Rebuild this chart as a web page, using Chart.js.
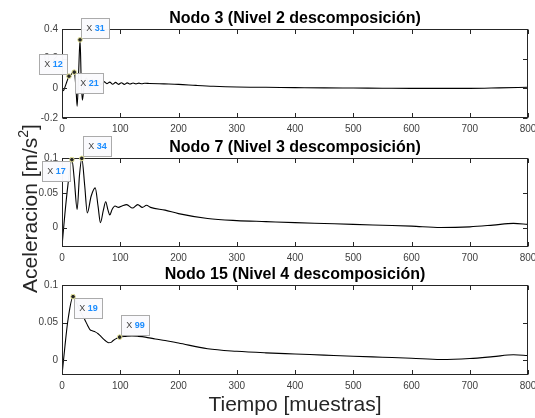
<!DOCTYPE html>
<html><head><meta charset="utf-8">
<script src="https://cdn.jsdelivr.net/npm/chart.js@4.4.0/dist/chart.umd.min.js"></script>
<style>
html,body{margin:0;padding:0;background:#fff;}
#wrap{position:relative;width:535px;height:418px;overflow:hidden;}
canvas{position:absolute;left:0;top:0;}
</style></head><body>
<div id="wrap">
<canvas id="c1" width="535" height="418"></canvas>
<canvas id="c2" width="535" height="418"></canvas>
<canvas id="c3" width="535" height="418"></canvas>
</div>
<script>
// ---------- DATA ----------
const xTicks = [0, 100, 200, 300, 400, 500, 600, 700, 800];

const nodo3Title = 'Nodo 3 (Nivel 2 descomposición)';
const nodo3X = [0, 3, 7, 12, 16, 21, 24, 26, 28.5, 31, 33, 35, 38, 42, 47, 52, 57, 62, 67, 72, 77, 82, 87, 92, 97, 102, 107, 112, 117, 122, 127, 132, 137, 142, 150, 175, 200, 230, 260, 300, 350, 400, 450, 500, 550, 600, 650, 700, 750, 800];
const nodo3Y = [-0.018, -0.012, 0.03, 0.082, 0.095, 0.109, 0.0, -0.12, 0.1, 0.327, 0.05, -0.08, 0.02, 0.07, 0.0, 0.06, 0.015, 0.05, 0.025, 0.045, 0.032, 0.042, 0.028, 0.04, 0.027, 0.038, 0.027, 0.037, 0.029, 0.036, 0.03, 0.035, 0.031, 0.034, 0.033, 0.03, 0.027, 0.02, 0.014, 0.009, 0.007, 0.005, 0.003, 0.002, 0.001, 0.0, 0.0, 0.0, 0.003, 0.007];
const nodo3YTicks = [-0.2, 0, 0.2, 0.4];
const nodo3Tips = [12, 21, 31];

const nodo7Title = 'Nodo 7 (Nivel 3 descomposición)';
const nodo7X = [0, 5, 10, 17, 21, 26, 30, 34, 39, 43.5, 50, 57, 62, 66, 71, 75, 79, 82, 86, 91, 97, 103, 111, 121, 130, 138, 145, 152, 177, 200, 250, 300, 350, 400, 450, 500, 550, 600, 650, 700, 740, 775, 800];
const nodo7Y = [-0.027, 0.02, 0.06, 0.0976, 0.07, 0.026, 0.075, 0.0995, 0.06, 0.021, 0.045, 0.057, 0.03, 0.007, 0.025, 0.037, 0.025, 0.018, 0.026, 0.031, 0.029, 0.031, 0.033, 0.028, 0.033, 0.029, 0.032, 0.029, 0.025, 0.02, 0.013, 0.010, 0.0085, 0.007, 0.0058, 0.0046, 0.0033, 0.002, 0.0, 0.001, 0.0035, 0.006, 0.0046];
const nodo7YTicks = [0, 0.05, 0.1];
const nodo7Tips = [17, 34];

const nodo15Title = 'Nodo 15 (Nivel 4 descomposición)';
const nodo15X = [0, 5, 10, 19, 25, 32, 39, 44, 48, 52, 57, 62, 68, 74, 80, 84, 88, 93, 99, 110, 120, 131, 143, 160, 177, 200, 250, 300, 350, 400, 450, 500, 550, 600, 650, 700, 740, 775, 800];
const nodo15Y = [-0.02, 0.018, 0.052, 0.0845, 0.076, 0.064, 0.054, 0.046, 0.0405, 0.039, 0.0375, 0.035, 0.0305, 0.026, 0.023, 0.0235, 0.026, 0.0285, 0.0305, 0.0315, 0.032, 0.0315, 0.0305, 0.028, 0.026, 0.0226, 0.015, 0.0116, 0.0095, 0.008, 0.0065, 0.005, 0.0037, 0.0024, 0.0007, 0.002, 0.0045, 0.007, 0.006];
const nodo15YTicks = [0, 0.05, 0.1];
const nodo15Tips = [19, 99];

const xLabel = 'Tiempo [muestras]';
const yLabelMain = 'Aceleracion [m/s';
const yLabelSup = '2';
const yLabelEnd = ']';

// ---------- DRAWING ----------
const FONT = '"Liberation Sans", Arial, Helvetica, sans-serif';
const AXC = '#262626';

const matlabPlugin = {
  id: 'matlab',
  afterDatasetsDraw(chart, args, opts) {
    const ctx = chart.ctx, a = chart.chartArea;
    const xs = chart.scales.x, ys = chart.scales.y;
    const tl = 4.5;
    ctx.save();
    ctx.strokeStyle = AXC; ctx.lineWidth = 1;
    const L = Math.round(a.left) + 0.5, R = Math.round(a.right) - 0.5;
    const T = Math.round(a.top) + 0.5, B = Math.round(a.bottom) - 0.5;
    ctx.strokeRect(L, T, R - L, B - T);
    ctx.beginPath();
    xs.ticks.forEach(t => {
      const px = Math.round(xs.getPixelForValue(t.value)) + 0.5;
      ctx.moveTo(px, B); ctx.lineTo(px, B - tl);
      ctx.moveTo(px, T); ctx.lineTo(px, T + tl);
    });
    ys.ticks.forEach(t => {
      const py = Math.round(ys.getPixelForValue(t.value)) + 0.5;
      ctx.moveTo(L, py); ctx.lineTo(L + tl, py);
      ctx.moveTo(R, py); ctx.lineTo(R - tl, py);
    });
    ctx.stroke();
    // title
    ctx.fillStyle = '#000';
    ctx.font = 'bold 16px ' + FONT;
    ctx.textAlign = 'center'; ctx.textBaseline = 'alphabetic';
    ctx.fillText(opts.title, (a.left + a.right) / 2, a.top - 6);
    // datatips
    const data = chart.data.datasets[0].data;
    (opts.tips || []).forEach(tip => {
      const p = data.find(d => d.x === tip.x);
      const px = xs.getPixelForValue(p.x), py = ys.getPixelForValue(p.y);
      const w = 29, h = 21, g = 1;
      const bx = Math.round(tip.dir[1] === 'r' ? px + g : px - g - w);
      const by = Math.round(tip.dir[0] === 'u' ? py - g - h : py + g);
      ctx.fillStyle = 'rgba(250,250,253,0.97)';
      ctx.fillRect(bx, by, w, h);
      ctx.strokeStyle = '#ababab'; ctx.lineWidth = 1;
      ctx.strokeRect(bx + 0.5, by + 0.5, w - 1, h - 1);
      const s1 = 'X ', s2 = String(tip.x);
      ctx.font = '9px ' + FONT;
      const w1 = ctx.measureText(s1).width;
      ctx.font = 'bold 9px ' + FONT;
      const w2 = ctx.measureText(s2).width;
      let tx = bx + (w - w1 - w2) / 2;
      const ty = by + h / 2 + 0.5;
      ctx.textAlign = 'left'; ctx.textBaseline = 'middle';
      ctx.font = '9px ' + FONT; ctx.fillStyle = '#404040';
      ctx.fillText(s1, tx, ty);
      ctx.font = 'bold 9px ' + FONT; ctx.fillStyle = '#1a8cff';
      ctx.fillText(s2, tx + w1, ty);
      ctx.beginPath(); ctx.arc(px, py, 2.3, 0, Math.PI * 2);
      ctx.fillStyle = '#262626'; ctx.fill();
      ctx.strokeStyle = '#e9e79a'; ctx.lineWidth = 1; ctx.stroke();
    });
    ctx.restore();
  }
};

const axisLabelPlugin = {
  id: 'axisLabels',
  afterDraw(chart) {
    const ctx = chart.ctx, a = chart.chartArea;
    ctx.save();
    ctx.fillStyle = AXC;
    ctx.font = '21px ' + FONT;
    ctx.textAlign = 'center'; ctx.textBaseline = 'alphabetic';
    ctx.fillText(xLabel, (a.left + a.right) / 2, 411);
    // y label rotated
    ctx.translate(37, 208.5);
    ctx.rotate(-Math.PI / 2);
    ctx.font = '21px ' + FONT;
    const w1 = ctx.measureText(yLabelMain).width;
    ctx.font = '14px ' + FONT;
    const w2 = ctx.measureText(yLabelSup).width;
    ctx.font = '21px ' + FONT;
    const w3 = ctx.measureText(yLabelEnd).width;
    let x0 = -(w1 + w2 + w3) / 2;
    ctx.textAlign = 'left';
    ctx.fillText(yLabelMain, x0, 0);
    ctx.font = '14px ' + FONT;
    ctx.fillText(yLabelSup, x0 + w1, -9);
    ctx.font = '21px ' + FONT;
    ctx.fillText(yLabelEnd, x0 + w1 + w2, 0);
    ctx.restore();
  }
};

function fmt(v) { return String(Number(Number(v).toFixed(3))); }

function makeChart(id, xArr, yArr, yTicks, yMin, yMax, title, tipXs, tipDirs, top, bottom, extraPlugins) {
  const pts = xArr.map((x, i) => ({ x: x, y: yArr[i] }));
  return new Chart(document.getElementById(id), {
    type: 'line',
    data: { datasets: [{ data: pts, borderColor: '#000', borderWidth: 1.1, pointRadius: 0, fill: false, cubicInterpolationMode: 'monotone' }] },
    options: {
      responsive: false, animation: false, devicePixelRatio: 1,
      layout: { padding: { left: 0, right: 7, top: top, bottom: 418 - bottom - 20 } },
      plugins: {
        legend: { display: false }, tooltip: { enabled: false }, title: { display: false },
        matlab: { title: title, tips: tipXs.map((x, i) => ({ x: x, dir: tipDirs[i] })) }
      },
      scales: {
        x: {
          type: 'linear', min: 0, max: 800,
          grid: { display: false, drawTicks: false }, border: { display: false },
          ticks: { autoSkip: false, maxRotation: 0, padding: 5, color: '#404040', font: { family: FONT, size: 10 }, callback: fmt },
          afterBuildTicks: s => { s.ticks = xTicks.map(v => ({ value: v })); },
          afterFit: s => { s.height = 20; s.paddingLeft = 0; s.paddingRight = 0; }
        },
        y: {
          type: 'linear', min: yMin, max: yMax,
          grid: { display: false, drawTicks: false }, border: { display: false },
          ticks: { padding: 4, color: '#404040', font: { family: FONT, size: 10 }, callback: fmt },
          afterBuildTicks: s => { s.ticks = yTicks.map(v => ({ value: v })); },
          afterFit: s => { s.width = 62; s.paddingTop = 0; s.paddingBottom = 0; }
        }
      }
    },
    plugins: [matlabPlugin].concat(extraPlugins || [])
  });
}

makeChart('c1', nodo3X, nodo3Y, nodo3YTicks, -0.2, 0.4, nodo3Title, nodo3Tips, ['ul', 'dr', 'ur'], 29, 118);
makeChart('c2', nodo7X, nodo7Y, nodo7YTicks, -0.028, 0.1, nodo7Title, nodo7Tips, ['dl', 'ur'], 158, 247);
makeChart('c3', nodo15X, nodo15Y, nodo15YTicks, -0.02, 0.1, nodo15Title, nodo15Tips, ['dr', 'ur'], 285, 375, [axisLabelPlugin]);
</script>
</body></html>
